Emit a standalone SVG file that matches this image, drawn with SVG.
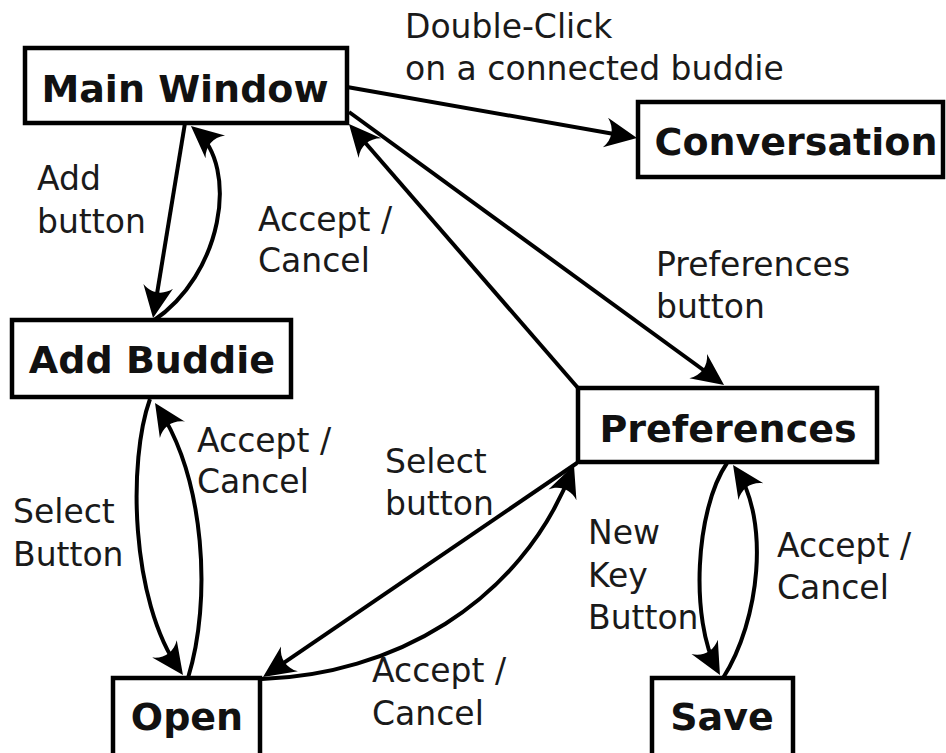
<svg xmlns="http://www.w3.org/2000/svg" width="946" height="753" viewBox="0 0 946 753">
  <style>
    .box { fill: #ffffff; stroke: #000000; stroke-width: 4.5; }
    .title { font-family: "DejaVu Sans", "Liberation Sans", sans-serif; font-weight: bold; font-size: 38px; fill: #111111; text-anchor: middle; }
    .edge { fill: none; stroke: #000000; stroke-width: 4; marker-end: url(#arrow); }
    .lbl { font-family: "DejaVu Sans", "Liberation Sans", sans-serif; font-size: 33px; fill: #1a1a1a; }
  </style>
  <defs>
    <!-- swept-back arrowhead; its tip sits 6px beyond the path end -->
    <marker id="arrow" markerUnits="userSpaceOnUse" viewBox="-34 -17 42 34" markerWidth="42" markerHeight="34" refX="-6" refY="0" orient="auto" overflow="visible">
      <path d="M0,0 L-32,-15 C-24,-6 -24,6 -32,15 Z" fill="#000000"/>
    </marker>
  </defs>
  <rect width="946" height="753" fill="#ffffff"/>

  <g id="connectors">
    <!-- Main Window -> Conversation -->
    <path class="edge" d="M347,87 L631.1,137"/>
    <!-- Main Window -> Add Buddie -->
    <path class="edge" d="M185,123 L154,312.1"/>
    <!-- Add Buddie -> Main Window -->
    <path class="edge" d="M153,321 C222,275 240,168 195.5,130"/>
    <!-- Preferences -> Main Window -->
    <path class="edge" d="M578,388 L352.9,128.5"/>
    <!-- Main Window -> Preferences -->
    <path class="edge" d="M349,112 L719.2,381.5"/>
    <!-- Add Buddie -> Open -->
    <path class="edge" d="M150,399 C128,460 130,600 179.5,670.1"/>
    <!-- Open -> Add Buddie -->
    <path class="edge" d="M188,678 C212,600 205,480 158.3,408"/>
    <!-- Preferences -> Open -->
    <path class="edge" d="M577,463 L268,673.6"/>
    <!-- Open -> Preferences -->
    <path class="edge" d="M262,679 C390,675 520,605 571.8,470.6"/>
    <!-- Preferences -> Save -->
    <path class="edge" d="M727,463 C695,510 690,620 717.1,669.7"/>
    <!-- Save -> Preferences -->
    <path class="edge" d="M723,678 C760,620 770,520 736.4,470"/>
  </g>

  <g id="labels">
    <text class="lbl" x="405" y="38">Double-Click</text>
    <text class="lbl" x="405" y="80">on a connected buddie</text>
    <text class="lbl" x="37" y="190">Add</text>
    <text class="lbl" x="37" y="233">button</text>
    <text class="lbl" x="258" y="231">Accept /</text>
    <text class="lbl" x="258" y="272">Cancel</text>
    <text class="lbl" x="656" y="276">Preferences</text>
    <text class="lbl" x="656" y="318">button</text>
    <text class="lbl" x="197" y="452">Accept /</text>
    <text class="lbl" x="197" y="493">Cancel</text>
    <text class="lbl" x="13" y="523">Select</text>
    <text class="lbl" x="13" y="566">Button</text>
    <text class="lbl" x="385" y="473">Select</text>
    <text class="lbl" x="385" y="515">button</text>
    <text class="lbl" x="588" y="544">New</text>
    <text class="lbl" x="588" y="587">Key</text>
    <text class="lbl" x="588" y="629">Button</text>
    <text class="lbl" x="777" y="557">Accept /</text>
    <text class="lbl" x="777" y="599">Cancel</text>
    <text class="lbl" x="372" y="682">Accept /</text>
    <text class="lbl" x="372" y="725">Cancel</text>
  </g>

  <g id="main-window">
    <rect class="box" x="25" y="48" width="322" height="75"/>
    <text class="title" x="185" y="102">Main Window</text>
  </g>
  <g id="conversation">
    <rect class="box" x="638" y="102" width="305" height="75"/>
    <text class="title" x="796" y="155">Conversation</text>
  </g>
  <g id="add-buddie">
    <rect class="box" x="12" y="320" width="279" height="77"/>
    <text class="title" x="152" y="373">Add Buddie</text>
  </g>
  <g id="preferences">
    <rect class="box" x="578" y="388" width="299" height="74"/>
    <text class="title" x="728" y="442">Preferences</text>
  </g>
  <g id="open">
    <rect class="box" x="113" y="678" width="147" height="82"/>
    <text class="title" x="187" y="730">Open</text>
  </g>
  <g id="save">
    <rect class="box" x="652" y="678" width="141" height="82"/>
    <text class="title" x="722" y="730">Save</text>
  </g>
</svg>
